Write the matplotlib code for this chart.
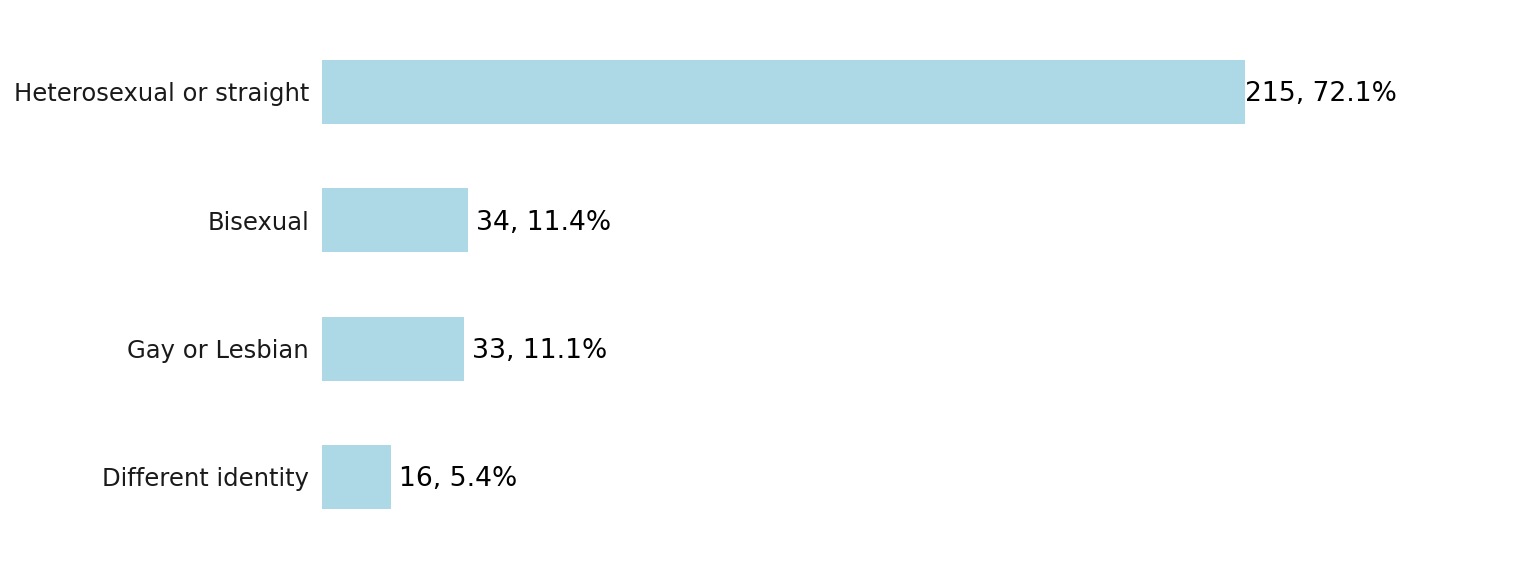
import matplotlib
matplotlib.use("Agg")
import matplotlib.pyplot as plt

categories = ["Heterosexual or straight", "Bisexual", "Gay or Lesbian", "Different identity"]
counts = [215, 34, 33, 16]
percents = [72.1, 11.4, 11.1, 5.4]

DPI = 96
fig = plt.figure(figsize=(1536 / DPI, 576 / DPI), dpi=DPI)
W, H = 1536, 576
x0, x1 = 322, 1395
y_top, y_bot = 15, 554
ax = fig.add_axes([x0 / W, 1 - y_bot / H, (x1 - x0) / W, (y_bot - y_top) / H])

ypos = list(range(len(categories)))
ax.barh(ypos, counts, height=0.5, color="#ADD8E6")
ax.set_xlim(0, 250)
ax.set_ylim(3.6, -0.6)
ax.set_yticks(ypos)
ax.set_yticklabels(categories, fontsize=18.2, color="#1a1a1a")
ax.tick_params(axis="y", length=0, pad=9.75)
ax.set_xticks([])
for s in ax.spines.values():
    s.set_visible(False)

vmax = max(counts)
for y, c, p in zip(ypos, counts, percents):
    off = 0 if c == vmax else 8
    ax.annotate(f"{c}, {p}%", xy=(c, y), xytext=(off, -2.5), textcoords="offset pixels",
                ha="left", va="center", fontsize=19.9, color="black")

fig.savefig("out.png", dpi=DPI)
